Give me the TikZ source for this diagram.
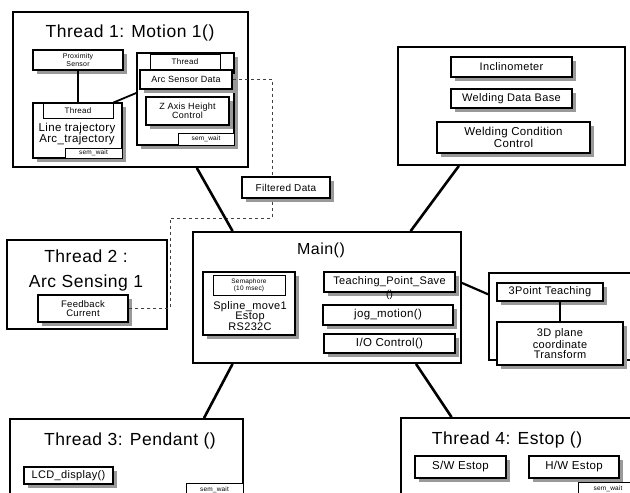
\documentclass[tikz,border=0pt]{standalone}
\usepackage{fontspec}
\setmainfont[LetterSpace=3]{Liberation Sans}
\usepackage{tikz}
\usetikzlibrary{positioning, calc}
\tikzstyle{thrbox} = [draw, line width=1.8pt, fill=white, inner sep=0pt]
\tikzstyle{subbox} = [draw, line width=1.5pt, fill=white, align=center, inner sep=1pt, preaction={fill=black!40, transform canvas={shift={(3.5pt,-3.5pt)}}}]
\tikzstyle{tagbox} = [draw, line width=0.9pt, fill=white, align=center, inner sep=0.5pt, font=\fontsize{6.5}{7}\selectfont]
\tikzstyle{title} = [font=\fontsize{17.5}{19}\selectfont, inner sep=0pt]
\tikzstyle{link} = [line width=2.6pt]

\begin{document}
\begin{tikzpicture}[x=1pt, y=-1pt]
    \clip (0,0) rectangle (630,493);
    \fill[white] (0,0) rectangle (630,493);
    % Thread 1
    \node[thrbox, minimum width=235, minimum height=155] (t1) at (130.5,89.5) {};
    \node[title] (t1title) at (130,33) {Thread 1: Motion 1()};
    \node[subbox, minimum width=90, minimum height=20, font=\fontsize{7}{7.5}\selectfont] (prox) at (78,60) {Proximity\\Sensor};
    \node[subbox, minimum width=89, minimum height=55] (thrA) at (77.5,130.5) {};
    \node[tagbox, minimum width=70, minimum height=15, font=\fontsize{8}{8}\selectfont] (thrAlab) at (78,110.5) {Thread};
    \node[align=center, font=\fontsize{11.5}{11}\selectfont, inner sep=0pt] (thrAtxt) at (77,134) {Line trajectory\\Arc\_trajectory};
    \node[tagbox, minimum width=57, minimum height=10] (semA) at (93.5,153) {sem\_wait};
    \node[subbox, minimum width=97, minimum height=92] (thrB) at (185.5,99) {};
    \node[tagbox, minimum width=70, minimum height=15, font=\fontsize{8}{8}\selectfont] (thrBlab) at (185,61.5) {Thread};
    \node[subbox, minimum width=92, minimum height=19, font=\fontsize{9}{9}\selectfont] (arcsd) at (186,79.5) {Arc Sensor Data};
    \node[subbox, minimum width=83, minimum height=28, font=\fontsize{9}{9.5}\selectfont] (zaxis) at (187.5,111) {Z Axis Height\\Control};
    \node[tagbox, minimum width=56, minimum height=12] (semB) at (206,139) {sem\_wait};
    \draw[link] (prox.south) -- (thrAlab.north);
    \draw[link, line width=1.8pt] (thrAlab.north east) -- ($(thrB.west)+(0,-6)$);
    % Welding box
    \node[thrbox, minimum width=227, minimum height=118] (weld) at (511.5,106) {};
    \node[subbox, minimum width=121, minimum height=20, font=\fontsize{11}{11}\selectfont] (incl) at (511.5,67) {Inclinometer};
    \node[subbox, minimum width=121, minimum height=19, font=\fontsize{11}{11}\selectfont] (wdb) at (511.5,98.5) {Welding Data Base};
    \node[subbox, minimum width=153, minimum height=31, font=\fontsize{11.5}{10}\selectfont] (wcc) at (513.5,137.5) {Welding Condition\\Control};
    % Thread 2
    \node[thrbox, minimum width=160, minimum height=89] (t2) at (87,284.5) {};
    \node[title] (t2title) at (86,256) {Thread 2 :};
    \node[title] (t2sub) at (86,283) {Arc Sensing 1};
    \node[subbox, minimum width=90, minimum height=27, font=\fontsize{9.5}{9.5}\selectfont] (fb) at (83,308.5) {Feedback\\Current};
    % sensing path
    \coordinate (dA) at (272,218);
    \coordinate (dB) at (170,218);
    \draw[dashed, line width=0.9pt, black!75] (arcsd.east) -| (dA) -- (dB) |- (fb.east);
    \node[subbox, minimum width=88, minimum height=21, font=\fontsize{10}{10}\selectfont] (filt) at (286,187.5) {Filtered Data};
    % Main
    \node[thrbox, minimum width=268, minimum height=131] (main) at (327,297.5) {};
    \node[font=\fontsize{16}{17}\selectfont, inner sep=0pt] (maintitle) at (321,250) {Main()};
    \node[subbox, minimum width=92, minimum height=63] (semgrp) at (249,303.5) {};
    \node[tagbox, minimum width=72, minimum height=20] (semaph) at (249,285) {Semaphore\\(10 msec)};
    \node[align=center, font=\fontsize{11}{9.5}\selectfont, inner sep=0pt] (semtxt) at (250,316) {Spline\_move1\\Estop\\RS232C};
    \node[subbox, minimum width=131, minimum height=20, font=\fontsize{11}{11}\selectfont, label={[font=\fontsize{10}{10}\selectfont, inner sep=0pt, yshift=3pt]below:()}] (tps) at (389.5,282) {Teaching\_Point\_Save};
    \node[subbox, minimum width=130, minimum height=20, font=\fontsize{11.5}{11}\selectfont] (jog) at (388,315) {jog\_motion()};
    \node[subbox, minimum width=131, minimum height=19, font=\fontsize{11.5}{11}\selectfont] (ioc) at (389.5,343.5) {I/O Control()};
    % 3 point teaching
    \node[thrbox, minimum width=161, minimum height=87] (tch) at (569.5,316.5) {};
    \node[subbox, minimum width=106, minimum height=18, font=\fontsize{11}{11}\selectfont] (p3) at (550,292) {3Point Teaching};
    \node[subbox, minimum width=126, minimum height=43, font=\fontsize{11}{10}\selectfont] (p3d) at (560,343.5) {3D plane\\coordinate\\Transform};
    \draw[link, line width=2.2pt] (p3d.north |- p3.south) -- (p3d.north);
    % Thread 3
    \node[thrbox, minimum width=233, minimum height=91] (t3) at (126.5,464.5) {};
    \node[title] (t3title) at (130,441) {Thread 3: Pendant ()};
    \node[subbox, minimum width=89, minimum height=17, font=\fontsize{11}{11}\selectfont] (lcd) at (68.5,475.5) {LCD\_display()};
    \node[tagbox, minimum width=57, minimum height=14] (semC) at (214.5,490) {sem\_wait};
    % Thread 4
    \node[thrbox, minimum width=249, minimum height=92] (t4) at (525.5,464) {};
    \node[title] (t4title) at (507,440) {Thread 4: Estop ()};
    \node[subbox, minimum width=91, minimum height=22, font=\fontsize{11.5}{11}\selectfont] (sw) at (460.5,467) {S/W Estop};
    \node[subbox, minimum width=90, minimum height=22, font=\fontsize{11.5}{11}\selectfont] (hw) at (574,467) {H/W Estop};
    \node[tagbox, minimum width=60, minimum height=14] (semD) at (608,489) {sem\_wait};
    % links to main
    \draw[link] ($(t1.south west)!0.78!(t1.south east)$) -- ($(main.north west)!0.15!(main.north east)$);
    \draw[link] ($(weld.south west)!0.27!(weld.south east)$) -- ($(main.north west)!0.81!(main.north east)$);
    \draw[link, line width=2.2pt] ($(main.north east)!0.39!(main.south east)$) -- ($(tch.north west)!0.25!(tch.south west)$);
    \draw[link] ($(main.south west)!0.15!(main.south east)$) -- ($(t3.north west)!0.83!(t3.north east)$);
    \draw[link] ($(main.south west)!0.83!(main.south east)$) -- ($(t4.north west)!0.205!(t4.north east)$);
\end{tikzpicture}
\end{document}
